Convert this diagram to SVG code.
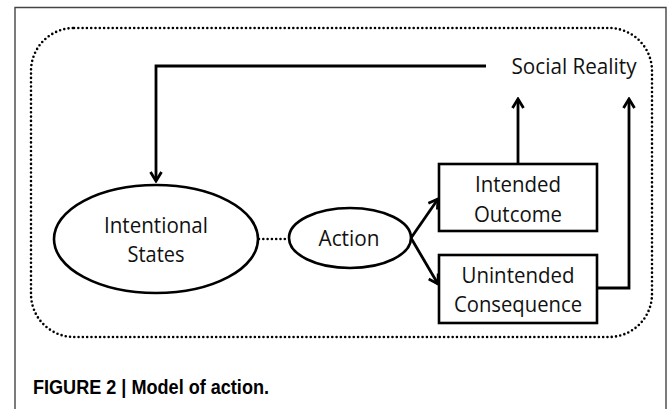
<svg xmlns="http://www.w3.org/2000/svg" width="669" height="409" viewBox="0 0 669 409">
  <style>
    .lbl { font-family: "Open Sans", "Liberation Sans", sans-serif; font-size: 21px; fill: #111; text-anchor: middle; }
    .shape { fill: #fff; stroke: #000; stroke-width: 2.6; }
    .wire { fill: none; stroke: #000; stroke-width: 2.8; }
    .dots { fill: none; stroke: #000; stroke-width: 2.6; stroke-linecap: round; stroke-dasharray: 0 4.3; }
    .cap { font-family: "Liberation Sans", Arial, sans-serif; font-weight: bold; font-size: 21px; fill: #000; }
  </style>
  <defs>
    <marker id="arrow" markerUnits="userSpaceOnUse" markerWidth="14" markerHeight="14" viewBox="-12 -7 14 14" refX="0" refY="0" orient="auto">
      <path d="M-9,-5.5 L0,0 L-9,5.5" fill="none" stroke="#000" stroke-width="2.8" stroke-linejoin="miter"/>
    </marker>
  </defs>

  <rect width="669" height="409" fill="#fff"/>
  <!-- outer frame: left, top and right edges -->
  <path d="M15,409 V7.5 H666 V409" fill="none" stroke="#444" stroke-width="1.4"/>

  <!-- dotted boundary -->
  <rect x="31" y="28" width="621" height="309" rx="43" ry="43" class="dots"/>

  <g id="connectors">
    <path class="wire" d="M486,66 H156 V181" marker-end="url(#arrow)"/>
    <path class="dots" d="M259,239 H288"/>
    <path class="wire" d="M411,238 L438,199" marker-end="url(#arrow)"/>
    <path class="wire" d="M411,238 L438,284" marker-end="url(#arrow)"/>
    <path class="wire" d="M518,164 V99" marker-end="url(#arrow)"/>
    <path class="wire" d="M597,288 H629 V99" marker-end="url(#arrow)"/>
  </g>

  <g id="social-reality">
    <text class="lbl" x="574" y="74" textLength="125" lengthAdjust="spacingAndGlyphs">Social Reality</text>
  </g>

  <g id="intentional-states">
    <ellipse class="shape" cx="156" cy="239" rx="102" ry="54"/>
    <text class="lbl" x="156" y="233" textLength="104" lengthAdjust="spacingAndGlyphs">Intentional</text>
    <text class="lbl" x="156" y="262" textLength="57" lengthAdjust="spacingAndGlyphs">States</text>
  </g>

  <g id="action">
    <ellipse class="shape" cx="350" cy="238" rx="61" ry="30"/>
    <text class="lbl" x="349" y="246" textLength="61" lengthAdjust="spacingAndGlyphs">Action</text>
  </g>

  <g id="intended-outcome">
    <rect class="shape" x="439" y="164" width="158" height="67"/>
    <text class="lbl" x="518" y="192" textLength="86" lengthAdjust="spacingAndGlyphs">Intended</text>
    <text class="lbl" x="518" y="222" textLength="88" lengthAdjust="spacingAndGlyphs">Outcome</text>
  </g>

  <g id="unintended-consequence">
    <rect class="shape" x="439" y="255" width="158" height="68"/>
    <text class="lbl" x="518" y="283" textLength="113" lengthAdjust="spacingAndGlyphs">Unintended</text>
    <text class="lbl" x="518" y="312" textLength="128" lengthAdjust="spacingAndGlyphs">Consequence</text>
  </g>

  <text class="cap" x="33" y="394" textLength="236" lengthAdjust="spacingAndGlyphs">FIGURE 2 | Model of action.</text>
</svg>
